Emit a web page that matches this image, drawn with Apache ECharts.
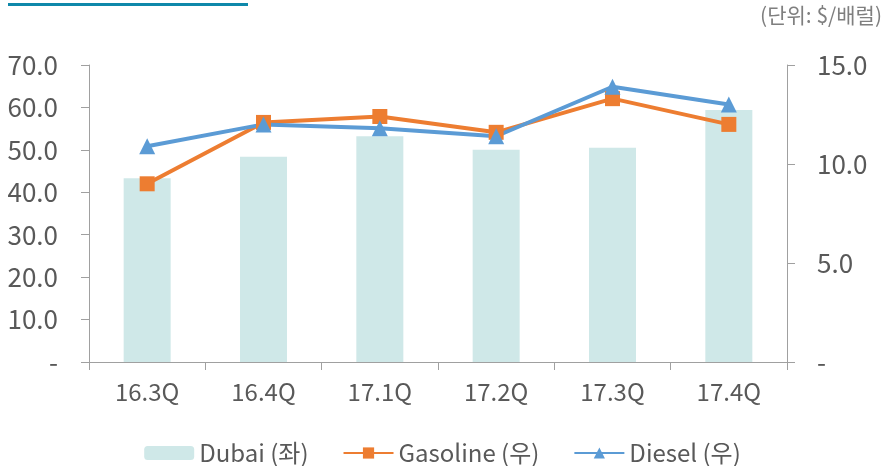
<!DOCTYPE html>
<html>
<head>
<meta charset="utf-8">
<script src="https://cdn.jsdelivr.net/npm/echarts@6/dist/echarts.min.js"></script>
<style>
  html, body { margin: 0; padding: 0; background: #fff; }
  #chart { width: 885px; height: 466px; }
</style>
</head>
<body>
<div id="chart"></div>
<script>
// Quarterly prices ($/barrel)
const quarters = ['16.3Q', '16.4Q', '17.1Q', '17.2Q', '17.3Q', '17.4Q'];
const dubai = [43.3, 48.4, 53.2, 50.0, 50.5, 59.4];      // left axis
const gasoline = [9.0, 12.1, 12.4, 11.6, 13.3, 12.0];   // right axis
const diesel = [10.9, 12.0, 11.8, 11.4, 13.9, 13.0];    // right axis
const leftTicks = { min: 0, max: 70, step: 10 };
const rightTicks = { min: 0, max: 15, step: 5 };

const FONT = '"Noto Sans CJK KR", "Noto Sans", sans-serif';
const TEXT = '#595959';
const AXIS = '#a0a0a0';

const fmt = v => (v === 0 ? '-' : v.toFixed(1));

const chart = echarts.init(document.getElementById('chart'));
chart.setOption({
  animation: false,
  textStyle: { fontFamily: FONT, color: TEXT },
  grid: { left: 89, right: 98, top: 65, bottom: 104, containLabel: false },
  graphic: [
    { type: 'rect', shape: { x: 8, y: 3, width: 240, height: 3 }, style: { fill: '#0e88aa' } },
    {
      type: 'text', right: 3, top: 5,
      style: { text: '(단위: $/배럴)', font: '21px ' + FONT, fill: '#7f7f7f' }
    }
  ],
  legend: {
    left: 'center', top: 436,
    itemWidth: 50, itemHeight: 14, itemGap: 34,
    textStyle: { fontSize: 24, color: TEXT, fontFamily: FONT },
    data: ['Dubai (좌)', 'Gasoline (우)', 'Diesel (우)']
  },
  xAxis: {
    type: 'category', data: quarters, boundaryGap: true,
    axisLine: { lineStyle: { color: AXIS, width: 1 } },
    axisTick: { show: true, length: 8, lineStyle: { color: AXIS } },
    axisLabel: { fontSize: 24, color: TEXT, margin: 18 }
  },
  yAxis: [
    {
      type: 'value', position: 'left',
      min: leftTicks.min, max: leftTicks.max, interval: leftTicks.step,
      axisLine: { show: true, lineStyle: { color: AXIS } },
      axisTick: { show: true, length: 8, lineStyle: { color: AXIS } },
      splitLine: { show: false },
      axisLabel: { fontSize: 26, color: TEXT, margin: 31, formatter: fmt }
    },
    {
      type: 'value', position: 'right',
      min: rightTicks.min, max: rightTicks.max, interval: rightTicks.step,
      axisLine: { show: true, lineStyle: { color: AXIS } },
      axisTick: { show: true, length: 8, lineStyle: { color: AXIS } },
      splitLine: { show: false },
      axisLabel: { fontSize: 26, color: TEXT, margin: 30, formatter: fmt }
    }
  ],
  series: [
    {
      name: 'Dubai (좌)', type: 'bar', yAxisIndex: 0, data: dubai,
      barWidth: 47, itemStyle: { color: '#cfe8e8' }
    },
    {
      name: 'Gasoline (우)', type: 'line', yAxisIndex: 1, data: gasoline,
      symbol: 'rect', symbolSize: 15,
      lineStyle: { color: '#ed7d31', width: 4 },
      itemStyle: { color: '#ed7d31' }
    },
    {
      name: 'Diesel (우)', type: 'line', yAxisIndex: 1, data: diesel,
      symbol: 'triangle', symbolSize: 16,
      lineStyle: { color: '#5b9bd5', width: 4 },
      itemStyle: { color: '#5b9bd5' }
    }
  ]
});
</script>
</body>
</html>
